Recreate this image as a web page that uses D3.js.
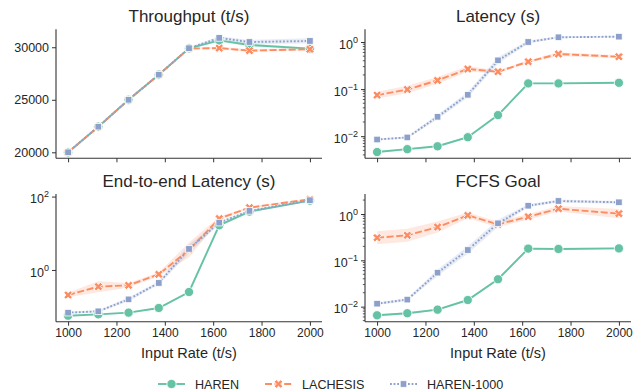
<!DOCTYPE html>
<html>
<head>
<meta charset="utf-8">
<script src="https://cdn.jsdelivr.net/npm/d3@7"></script>
<style>
  body { margin: 0; background: #fff; }
  text { font-family: "Liberation Sans", Arial, sans-serif; fill: #262626; }
</style>
</head>
<body>
<div id="chart"></div>
<script>
// data
const inputRates = [1000, 1125, 1250, 1375, 1500, 1625, 1750, 2000];
const xTickValues = [1000, 1200, 1400, 1600, 1800, 2000];
const seriesNames = ["HAREN", "LACHESIS", "HAREN-1000"];

const throughputHaren = [20000, 22440, 25000, 27390, 29900, 30650, 30220, 29870];
const throughputLachesis = [20000, 22440, 25000, 27390, 29880, 29920, 29680, 29810];
const throughputHaren1000 = [20000, 22440, 25000, 27390, 29910, 30890, 30500, 30600];
// band half-width (t/s)
const throughputBandHaren = [30, 30, 30, 30, 60, 120, 150, 100];
const throughputBandLachesis = [30, 30, 30, 30, 80, 120, 120, 120];
const throughputBandHaren1000 = [30, 30, 30, 30, 80, 150, 200, 250];

const latencyHaren = [0.0046, 0.0053, 0.0061, 0.0095, 0.028, 0.132, 0.132, 0.136];
const latencyLachesis = [0.0745, 0.098, 0.153, 0.267, 0.234, 0.382, 0.556, 0.487];
const latencyHaren1000 = [0.0085, 0.0094, 0.0258, 0.0757, 0.408, 1.0, 1.26, 1.30];
// band half-width in decades
const latencyBandHaren = [0.02, 0.02, 0.02, 0.02, 0.02, 0.02, 0.02, 0.02];
const latencyBandLachesis = [0.07, 0.08, 0.07, 0.06, 0.03, 0.03, 0.04, 0.03];
const latencyBandHaren1000 = [0.02, 0.02, 0.05, 0.06, 0.07, 0.03, 0.02, 0.02];

const e2eHaren = [0.0567, 0.0618, 0.0686, 0.092, 0.251, 16.5, 38.9, 77.6];
const e2eLachesis = [0.208, 0.351, 0.382, 0.762, 3.51, 25.1, 50, 84.7];
const e2eHaren1000 = [0.0686, 0.0746, 0.158, 0.442, 3.74, 19.5, 40.7, 79.6];
const e2eBandHaren = [0.02, 0.02, 0.02, 0.02, 0.02, 0.02, 0.02, 0.02];
const e2eBandLachesis = [0.06, 0.15, 0.06, 0.05, 0.2, 0.05, 0.03, 0.02];
const e2eBandHaren1000 = [0.03, 0.03, 0.05, 0.05, 0.12, 0.04, 0.02, 0.02];

const fcfsHaren = [0.0065, 0.0072, 0.0086, 0.0139, 0.039, 0.179, 0.176, 0.181];
const fcfsLachesis = [0.308, 0.347, 0.523, 0.935, 0.598, 0.875, 1.30, 1.02];
const fcfsHaren1000 = [0.0116, 0.0142, 0.0542, 0.167, 0.63, 1.51, 1.91, 1.79];
const fcfsBandHaren = [0.02, 0.02, 0.02, 0.02, 0.02, 0.02, 0.02, 0.02];
const fcfsBandLachesis = [0.14, 0.14, 0.12, 0.06, 0.06, 0.06, 0.06, 0.1];
const fcfsBandHaren1000 = [0.03, 0.03, 0.07, 0.08, 0.08, 0.03, 0.03, 0.03];

const colors = ["#66c2a5", "#fc8d62", "#8da0cb"];
const dashes = [null, "7,2.6", "1.8,1.8"];

const width = 644, height = 391;
const svg = d3.select("#chart").append("svg")
  .attr("width", width).attr("height", height);
svg.append("rect").attr("width", width).attr("height", height).attr("fill", "#fff");

const panels = [
  { title: "Throughput (t/s)", left: 56, right: 322, top: 29.3, bottom: 158.3, log: false,
    domain: [19430, 31710], ticks: [20000, 25000, 30000], xLabels: false,
    values: [throughputHaren, throughputLachesis, throughputHaren1000],
    bands: [throughputBandHaren, throughputBandLachesis, throughputBandHaren1000] },
  { title: "Latency (s)", left: 365, right: 631, top: 29.3, bottom: 158.3, log: true, minor: true,
    domain: [Math.pow(10, -2.47), Math.pow(10, 0.27)], ticks: [1e-2, 1e-1, 1], xLabels: false,
    values: [latencyHaren, latencyLachesis, latencyHaren1000],
    bands: [latencyBandHaren, latencyBandLachesis, latencyBandHaren1000] },
  { title: "End-to-end Latency (s)", left: 56, right: 322, top: 194, bottom: 321.7, log: true, minor: false,
    domain: [Math.pow(10, -1.41), Math.pow(10, 2.07)], ticks: [1, 100], xLabels: true,
    values: [e2eHaren, e2eLachesis, e2eHaren1000],
    bands: [e2eBandHaren, e2eBandLachesis, e2eBandHaren1000] },
  { title: "FCFS Goal", left: 365, right: 631, top: 194, bottom: 321.7, log: true, minor: true,
    domain: [Math.pow(10, -2.325), Math.pow(10, 0.432)], ticks: [1e-2, 1e-1, 1], xLabels: true,
    values: [fcfsHaren, fcfsLachesis, fcfsHaren1000],
    bands: [fcfsBandHaren, fcfsBandLachesis, fcfsBandHaren1000] }
];

const axisColor = "#333";

// marker drawing
const drawMarker = (g, i, cx, cy, scale) => {
  const s = scale || 1;
  if (i === 0) {
    g.append("circle").attr("cx", cx).attr("cy", cy).attr("r", 4.6 * s)
      .attr("fill", colors[0]).attr("stroke", "#fff").attr("stroke-width", 0.8);
  } else if (i === 1) {
    g.append("path").attr("d", d3.symbol(d3.symbolCross, 46 * s * s)())
      .attr("transform", `translate(${cx},${cy}) rotate(45)`)
      .attr("fill", colors[1]).attr("stroke", "#fff").attr("stroke-width", 0.8);
  } else {
    const w = 6.6 * s;
    g.append("rect").attr("x", cx - w / 2).attr("y", cy - w / 2).attr("width", w).attr("height", w)
      .attr("fill", colors[2]).attr("stroke", "#fff").attr("stroke-width", 0.8);
  }
};

const fmtExp = (sel, v) => {
  const e = Math.round(Math.log10(v));
  sel.text("");
  sel.append("tspan").text("10");
  sel.append("tspan").attr("dy", -6).attr("font-size", 9).text(e < 0 ? "\u2212" + (-e) : e);
};

panels.forEach(p => {
  const x = d3.scaleLinear().domain([950, 2050]).range([p.left, p.right]);
  const y = (p.log ? d3.scaleLog() : d3.scaleLinear()).domain(p.domain).range([p.bottom, p.top]);
  const g = svg.append("g");

  // bands
  p.values.forEach((vals, i) => {
    const band = p.bands[i];
    const area = d3.area()
      .x((d, k) => x(inputRates[k]))
      .y0((d, k) => p.log ? y(d * Math.pow(10, -band[k])) : y(d - band[k]))
      .y1((d, k) => p.log ? y(d * Math.pow(10, band[k])) : y(d + band[k]));
    g.append("path").attr("d", area(vals)).attr("fill", colors[i]).attr("opacity", 0.2);
  });

  // lines
  p.values.forEach((vals, i) => {
    const line = d3.line().x((d, k) => x(inputRates[k])).y(d => y(d));
    g.append("path").attr("d", line(vals)).attr("fill", "none")
      .attr("stroke", colors[i]).attr("stroke-width", 1.9)
      .attr("stroke-dasharray", dashes[i]);
  });

  // markers
  p.values.forEach((vals, i) => {
    vals.forEach((d, k) => drawMarker(g, i, x(inputRates[k]), y(d)));
  });

  // x axis
  const xAxis = d3.axisBottom(x).tickValues(xTickValues).tickSize(4).tickPadding(3)
    .tickFormat(p.xLabels ? d3.format("d") : () => "");
  const xg = svg.append("g").attr("transform", `translate(0,${p.bottom})`).call(xAxis);
  xg.select(".domain").attr("d", `M${p.left},0H${p.right}`).attr("stroke", axisColor).attr("stroke-width", 1.1);
  xg.selectAll(".tick line").attr("stroke", axisColor).attr("stroke-width", 1);
  xg.selectAll(".tick text").attr("font-size", 12).attr("fill", "#262626")
    .style("font-family", "'Liberation Sans', Arial, sans-serif");

  // y axis
  const yAxis = d3.axisLeft(y).tickValues(p.ticks).tickSize(4).tickPadding(3);
  if (!p.log) yAxis.tickFormat(d3.format("d"));
  const yg = svg.append("g").attr("transform", `translate(${p.left},0)`).call(yAxis);
  yg.select(".domain").attr("d", `M0,${p.top}V${p.bottom}`).attr("stroke", axisColor).attr("stroke-width", 1.1);
  yg.selectAll(".tick line").attr("stroke", axisColor).attr("stroke-width", 1);
  yg.selectAll(".tick text").attr("font-size", 12.5).attr("fill", "#262626")
    .style("font-family", "'Liberation Sans', Arial, sans-serif");
  if (p.log) {
    yg.selectAll(".tick text").each(function (d) { fmtExp(d3.select(this), d); })
      .attr("dy", "0.5em");
  }

  // minor ticks on log axes
  if (p.log && p.minor) {
    const minor = [];
    const lo = Math.floor(Math.log10(p.domain[0])), hi = Math.ceil(Math.log10(p.domain[1]));
    for (let e = lo; e <= hi; e++) {
      for (let m = 2; m <= 9; m++) {
        const v = m * Math.pow(10, e);
        if (v >= p.domain[0] && v <= p.domain[1]) minor.push(v);
      }
    }
    svg.append("g").selectAll("line").data(minor).enter().append("line")
      .attr("x1", p.left - 2.2).attr("x2", p.left)
      .attr("y1", d => y(d)).attr("y2", d => y(d))
      .attr("stroke", axisColor).attr("stroke-width", 0.8);
  }

  // title
  svg.append("text").attr("x", (p.left + p.right) / 2).attr("y", p.top - 7)
    .attr("text-anchor", "middle").attr("font-size", 17).text(p.title);

  if (p.xLabels) {
    svg.append("text").attr("x", (p.left + p.right) / 2).attr("y", 358)
      .attr("text-anchor", "middle").attr("font-size", 14.5).text("Input Rate (t/s)");
  }
});

// legend
const legendX = [158, 265, 390];
const legend = svg.append("g");
seriesNames.forEach((name, i) => {
  const lx = legendX[i], ly = 384;
  legend.append("line").attr("x1", lx).attr("x2", lx + 27).attr("y1", ly).attr("y2", ly)
    .attr("stroke", colors[i]).attr("stroke-width", 1.9).attr("stroke-dasharray", dashes[i]);
  drawMarker(legend, i, lx + 13.5, ly);
  legend.append("text").attr("x", lx + 37).attr("y", ly + 4.5)
    .attr("font-size", 12.6).text(name);
});
</script>
</body>
</html>
